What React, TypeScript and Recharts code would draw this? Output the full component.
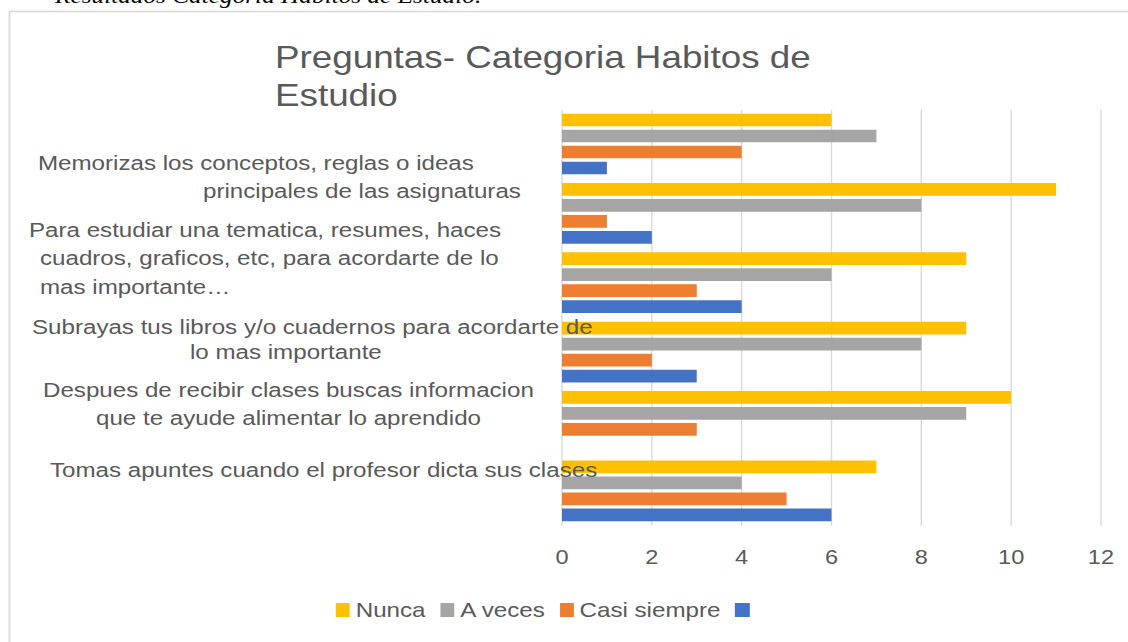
import React from 'react';
import { BarChart, Bar, XAxis, YAxis, CartesianGrid, Legend } from 'recharts';

// ---------- data ----------
const categories = [
  '',
  'Memorizas los conceptos, reglas o ideas principales de las asignaturas',
  'Para estudiar una tematica, resumes, haces cuadros, graficos, etc, para acordarte de lo mas importante…',
  'Subrayas tus libros y/o cuadernos para acordarte de lo mas importante',
  'Despues de recibir clases buscas informacion que te ayude alimentar lo aprendido',
  'Tomas apuntes cuando el profesor dicta sus clases',
];
const nunca = [6, 11, 9, 9, 10, 7];
const aVeces = [7, 8, 6, 8, 9, 4];
const casiSiempre = [4, 1, 3, 2, 3, 5];
const serie4 = [1, 2, 4, 3, 0, 6];
const xTicks = [0, 2, 4, 6, 8, 10, 12];
const seriesKeys = ['nunca', 'aVeces', 'casiSiempre', 'serie4'];
const seriesNames = ['Nunca', 'A veces', 'Casi siempre', ''];
const titleLines = ['Preguntas- Categoria Habitos de', 'Estudio'];
const captionText = 'Resultados Categoria Habitos de Estudio.';

// wrapped label text (as shown in the picture)
const labelLines: string[][] = [
  [],
  ['Memorizas los conceptos, reglas o ideas', 'principales de las asignaturas'],
  ['Para estudiar una tematica, resumes, haces', 'cuadros, graficos, etc, para acordarte de lo', 'mas importante…'],
  ['Subrayas tus libros y/o cuadernos para acordarte de', 'lo mas importante'],
  ['Despues de recibir clases buscas informacion', 'que te ayude alimentar lo aprendido'],
  ['Tomas apuntes cuando el profesor dicta sus clases'],
];

// ---------- style / layout ----------
const S = 1.15; // horizontal stretch of the reference picture
const W = 1128 / S;
const H = 642;
const COLORS = ['#FFC000', '#A5A5A5', '#ED7D31', '#4472C4'];
const TEXT = '#595959';
const FONT = '"Liberation Sans", Arial, Helvetica, sans-serif';
const PLOT_LEFT = 562 / S;
const PLOT_RIGHT = 1101 / S;
const PLOT_TOP = 109.65;
const PLOT_BOTTOM = 525.8;
const X_AXIS_H = 40;

// [x start (unscaled), dy from band centre]
const labelLayout: number[][][] = [
  [],
  [[38, -50.75], [203, -22.75]],
  [[29, -53.15], [40, -25.15], [40, 3.85]],
  [[32, -25.55], [190, -0.55]],
  [[43, -31.95], [96, -3.95]],
  [[50, -21.35]],
];

const data = categories.map((q, i) => ({
  q,
  nunca: nunca[i],
  aVeces: aVeces[i],
  casiSiempre: casiSiempre[i],
  serie4: serie4[i],
}));

const YTick = (props: any) => {
  const { y, payload } = props;
  const i = categories.indexOf(payload.value);
  const lines = labelLines[i] || [];
  const lay = labelLayout[i] || [];
  return (
    <g>
      {lines.map((t, j) => (
        <text
          key={j}
          x={lay[j][0] / S}
          y={y + lay[j][1]}
          dominantBaseline="central"
          textAnchor="start"
          fontSize={21}
          fontFamily={FONT}
          fill={TEXT}
          style={{ whiteSpace: 'pre' }}
        >
          {t}
        </text>
      ))}
    </g>
  );
};

const XTick = (props: any) => {
  const { x, y, payload } = props;
  return (
    <text
      x={x}
      y={y + 31.2}
      textAnchor="middle"
      dominantBaseline="central"
      fontSize={20.5}
      fontFamily={FONT}
      fill={TEXT}
    >
      {payload.value}
    </text>
  );
};

const LegendContent = () => (
  <div
    style={{
      display: 'flex',
      alignItems: 'center',
      fontFamily: FONT,
      fontSize: 21,
      color: TEXT,
      whiteSpace: 'nowrap',
      lineHeight: '24px',
    }}
  >
    {seriesKeys.map((k, i) => (
      <div key={k} style={{ display: 'flex', alignItems: 'center', marginRight: 13 }}>
        <span
          style={{
            display: 'inline-block',
            width: 14 / S,
            height: 14,
            background: COLORS[i],
            marginRight: seriesNames[i] ? 5 : 0,
          }}
        />
        {seriesNames[i] ? <span>{seriesNames[i]}</span> : null}
      </div>
    ))}
  </div>
);

export default function App() {
  return (
    <div
      style={{
        position: 'absolute',
        left: 0,
        top: 0,
        width: 1128,
        height: H,
        overflow: 'hidden',
        background: '#fff',
      }}
    >
      <div
        style={{
          position: 'relative',
          width: W,
          height: H,
          transform: `scaleX(${S})`,
          transformOrigin: '0 0',
        }}
      >
        <BarChart
          width={W}
          height={H}
          data={data}
          layout="vertical"
          barSize={12.7}
          barGap={3.3}
          margin={{
            top: PLOT_TOP,
            right: W - PLOT_RIGHT,
            left: 0,
            bottom: H - PLOT_BOTTOM - X_AXIS_H,
          }}
        >
          <CartesianGrid horizontal={false} stroke="#D9D9D9" strokeWidth={1.2} />
          {seriesKeys.map((k, i) => (
            <Bar
              key={k}
              dataKey={k}
              name={seriesNames[i] || ' '}
              fill={COLORS[i]}
              isAnimationActive={false}
            />
          ))}
          <XAxis
            type="number"
            domain={[0, 12]}
            ticks={xTicks}
            interval={0}
            tickLine={false}
            axisLine={false}
            tickSize={0}
            tickMargin={0}
            height={X_AXIS_H}
            tick={<XTick />}
          />
          <YAxis
            type="category"
            dataKey="q"
            width={PLOT_LEFT}
            interval={0}
            tickLine={false}
            axisLine={false}
            tick={<YTick />}
          />
          <Legend
            layout="vertical"
            align="center"
            verticalAlign="middle"
            content={<LegendContent />}
            wrapperStyle={{ position: 'absolute', left: 336 / S, top: 597.5, width: 'auto', height: 24 }}
          />
        </BarChart>
        <svg
          width={W}
          height={H}
          style={{ position: 'absolute', left: 0, top: 0, pointerEvents: 'none' }}
        >
          <rect x={9.5 / S} y={11.5} width={W + 50} height={H + 50} fill="none" stroke="#D9D9D9" strokeWidth={1.6} />
          <text
            x={55 / S}
            y={3}
            fontFamily='"Liberation Serif", "Times New Roman", serif'
            fontStyle="italic"
            fontSize={22}
            fill="#000"
          >
            {captionText}
          </text>
          {titleLines.map((t, i) => (
            <text key={i} x={275 / S} y={68 + i * 38.5} fontFamily={FONT} fontSize={32} fill={TEXT}>
              {t}
            </text>
          ))}
        </svg>
      </div>
    </div>
  );
}
